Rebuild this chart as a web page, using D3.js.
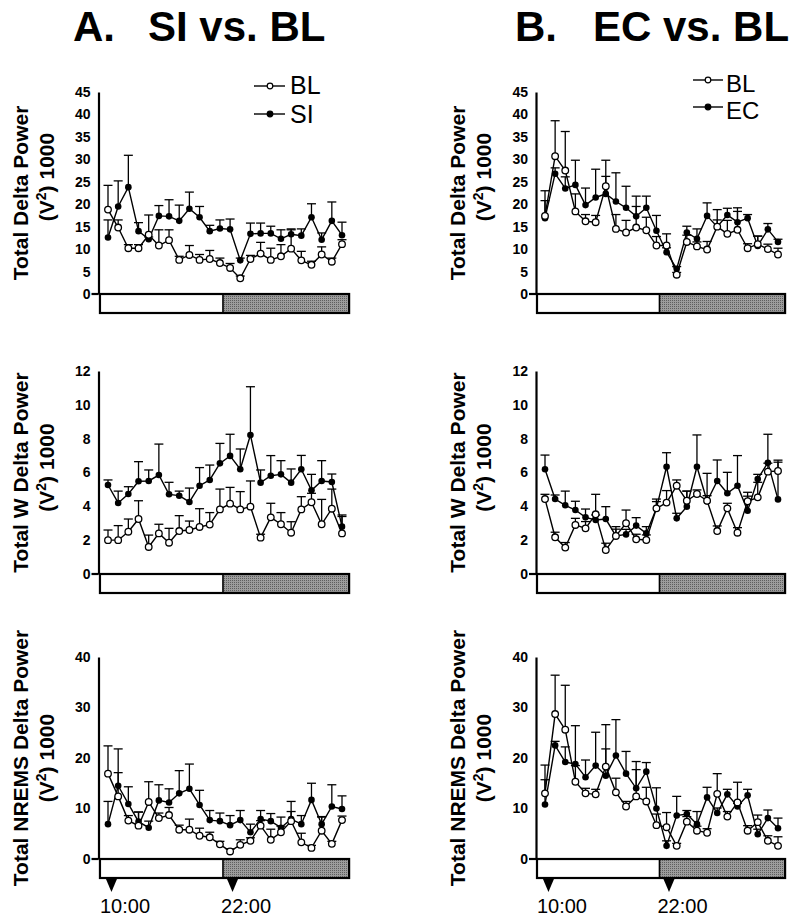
<!DOCTYPE html>
<html><head><meta charset="utf-8">
<script src="https://cdn.jsdelivr.net/npm/d3@7"></script>
<style>
body{margin:0;background:#fff}
svg{display:block}
text{font-family:"Liberation Sans",Arial,Helvetica,sans-serif;fill:#000}
</style>
</head><body>
<svg id="c" width="800" height="923"></svg>
<script>
// ---------- DATA ----------
const hourIndex = d3.range(24); // 24 hourly bins starting at 10:00
const timeLabels = ["10:00", "22:00"];
const timeLabelPos = [0.34, 12.24]; // position in hour-bin units
const lightDark = [-0.79, 11.3, 23.7]; // start, light/dark switch, end (hour-bin units)

const titles = ["A.", "B."];
const titleRest = ["SI vs. BL", "EC vs. BL"];
const seriesNames = [["BL", "SI"], ["BL", "EC"]];
const rowLabels = ["Total Delta Power", "Total W Delta Power", "Total NREMS Delta Power"];

const ticksRow1 = [0, 5, 10, 15, 20, 25, 30, 35, 40, 45];
const ticksRow2 = [0, 2, 4, 6, 8, 10, 12];
const ticksRow3 = [0, 10, 20, 30, 40];

// Row 1: Total Delta Power
const blA1 = [18.8, 14.8, 10.2, 10.2, 13.2, 10.8, 12.0, 7.6, 8.7, 7.6, 7.8, 6.9, 5.8, 3.5, 7.8, 9.0, 7.6, 8.4, 10.1, 7.5, 6.5, 8.8, 7.2, 11.1];
const blA1Err = [5.4, 1.7, 0.8, 0.8, 4.4, 3.5, 2.3, 0.8, 2.1, 1.2, 1.9, 1.1, 1.0, 0.5, 0.8, 2.5, 2.6, 2.6, 4.2, 2.0, 0.8, 1.7, 0.8, 1.0];
const siA1 = [12.6, 19.5, 23.8, 14.0, 12.2, 17.4, 17.3, 16.3, 19.0, 17.1, 14.0, 14.6, 14.4, 7.5, 13.4, 13.5, 13.5, 12.3, 13.3, 13.0, 17.1, 12.1, 16.3, 13.1];
const siA1Err = [3.9, 5.7, 7.1, 1.9, 0.5, 2.3, 3.7, 3.5, 3.7, 2.4, 1.3, 1.9, 2.3, 0.5, 2.4, 2.3, 1.6, 2.0, 1.2, 1.5, 3.0, 1.5, 4.2, 2.9];

const blB1 = [17.4, 30.7, 27.5, 18.4, 16.2, 16.0, 24.0, 14.5, 13.7, 14.8, 14.2, 10.8, 10.8, 4.3, 11.6, 10.6, 9.9, 15.0, 13.4, 14.3, 10.2, 11.1, 10.0, 8.8];
const blB1Err = [5.6, 7.9, 8.7, 3.9, 1.5, 1.5, 5.8, 3.2, 2.7, 4.7, 2.9, 2.0, 2.6, 0.5, 1.5, 1.0, 1.8, 1.5, 3.0, 4.1, 1.0, 1.8, 1.1, 1.4];
const ecB1 = [16.9, 26.8, 23.5, 24.3, 19.8, 21.5, 22.3, 20.6, 19.2, 17.3, 19.2, 14.1, 9.3, 5.6, 13.7, 12.3, 17.4, 15.0, 17.6, 16.0, 16.9, 10.7, 14.4, 11.6];
const ecB1Err = [3.9, 1.3, 2.6, 5.5, 3.8, 6.3, 3.9, 6.4, 4.8, 4.5, 2.6, 3.4, 1.0, 0.5, 1.4, 2.2, 2.9, 3.8, 1.5, 3.2, 0.8, 2.2, 1.3, 0.6];

// Row 2: Total W Delta Power
const blA2 = [2.0, 2.0, 2.5, 3.25, 1.6, 2.4, 1.85, 2.54, 2.6, 2.78, 2.92, 3.82, 4.16, 3.82, 3.98, 2.15, 3.35, 2.94, 2.44, 3.82, 4.24, 2.94, 3.86, 2.4];
const blA2Err = [0.6, 0.86, 0.75, 1.08, 0.7, 0.54, 0.85, 0.91, 0.53, 1.08, 0.71, 1.2, 0.96, 1.05, 1.52, 0.2, 0.83, 0.69, 0.65, 0.75, 0.53, 1.47, 1.16, 1.0];
const siA2 = [5.26, 4.2, 4.73, 5.48, 5.5, 5.85, 4.71, 4.63, 4.26, 5.22, 5.56, 6.54, 6.98, 6.19, 8.22, 5.4, 5.81, 5.89, 5.4, 6.19, 4.95, 5.5, 5.44, 2.8];
const siA2Err = [0.3, 0.7, 0.43, 1.16, 0.65, 1.83, 0.71, 0.27, 0.82, 1.07, 0.88, 1.18, 1.28, 1.2, 2.85, 0.75, 1.19, 0.81, 0.81, 0.82, 0.94, 1.2, 0.47, 0.69];

const blB2 = [4.43, 2.17, 1.56, 2.9, 2.7, 3.53, 1.42, 2.25, 3.0, 2.05, 2.01, 3.88, 4.22, 5.22, 4.33, 4.73, 4.33, 2.54, 3.88, 2.44, 4.3, 4.53, 6.05, 6.09];
const blB2Err = [0.28, 0.3, 0.3, 0.39, 0.4, 1.18, 0.4, 0.4, 0.78, 0.3, 0.3, 0.4, 0.71, 0.34, 0.57, 0.24, 0.3, 0.3, 0.3, 0.3, 0.3, 0.89, 0.5, 0.64];
const ecB2 = [6.19, 4.43, 4.06, 3.78, 3.35, 3.19, 3.25, 2.25, 2.34, 2.86, 2.4, 3.88, 6.34, 3.29, 3.98, 6.34, 4.3, 5.5, 4.77, 5.22, 3.74, 5.62, 6.58, 4.41];
const ecB2Err = [0.84, 0.24, 0.84, 0.52, 0.49, 0.3, 0.73, 0.55, 0.3, 0.47, 0.4, 0.55, 0.83, 0.3, 0.92, 1.88, 1.65, 1.24, 1.24, 1.78, 1.09, 0.27, 1.68, 2.2];

// Row 3: Total NREMS Delta Power
const blA3 = [16.9, 12.4, 7.6, 6.6, 11.3, 8.1, 8.7, 5.8, 5.8, 4.6, 4.3, 2.9, 1.5, 2.8, 3.6, 6.6, 3.8, 5.3, 7.5, 3.3, 2.2, 5.6, 3.0, 7.7];
const blA3Err = [5.5, 4.7, 1.0, 2.7, 4.0, 1.0, 1.5, 0.9, 2.1, 1.5, 1.0, 0.6, 0.5, 1.0, 0.6, 1.0, 2.1, 1.2, 1.9, 1.8, 0.5, 2.7, 0.5, 0.8];
const siA3 = [6.9, 14.5, 10.9, 7.4, 6.2, 11.6, 11.2, 13.0, 13.9, 10.7, 7.7, 7.5, 6.7, 7.7, 5.3, 7.9, 7.5, 6.2, 7.9, 6.9, 11.7, 6.9, 10.4, 9.9];
const siA3Err = [4.5, 7.3, 3.4, 1.9, 1.3, 3.1, 2.7, 4.5, 4.9, 2.9, 1.9, 1.6, 1.9, 1.9, 1.6, 1.7, 1.5, 2.1, 3.5, 1.7, 3.3, 1.5, 4.3, 2.6];

const blB3 = [13.0, 28.7, 25.6, 15.3, 13.0, 12.8, 18.3, 13.2, 10.4, 12.4, 11.4, 6.7, 6.3, 2.6, 7.4, 5.6, 5.2, 12.9, 8.4, 11.2, 5.6, 7.3, 3.6, 2.6];
const blB3Err = [5.6, 7.7, 8.8, 3.2, 1.0, 1.0, 8.3, 2.8, 1.0, 5.3, 2.8, 2.2, 2.9, 0.5, 1.0, 0.9, 0.8, 4.0, 1.0, 4.0, 1.0, 1.4, 1.0, 1.8];
const ecB3 = [10.8, 22.5, 19.2, 18.8, 16.2, 18.5, 16.5, 20.5, 16.9, 14.0, 17.3, 10.0, 2.6, 8.6, 8.9, 6.9, 12.2, 9.1, 12.8, 10.4, 12.6, 4.9, 8.1, 6.1];
const ecB3Err = [4.9, 0.8, 3.0, 7.6, 3.4, 6.6, 5.3, 7.1, 4.4, 5.3, 1.8, 4.1, 1.0, 3.8, 0.7, 2.5, 2.0, 1.0, 1.0, 0.6, 1.2, 1.0, 1.6, 2.0];

// ---------- LAYOUT ----------
const cols = [
  {x0: 108, x1: 342, axisX: 98.5, lab1: 28, lab2: 54, titleX: 73, restX: 148},
  {x0: 545, x1: 778, axisX: 536, lab1: 465, lab2: 491, titleX: 515, restX: 593}
];
const rows = [
  {top: 92, bottom: 294, max: 45, ticks: ticksRow1, l2shift: -16},
  {top: 371, bottom: 574, max: 12, ticks: ticksRow2, l2shift: -5},
  {top: 657, bottom: 859, max: 40, ticks: ticksRow3, l2shift: 0}
];
const panels = [
  {r: 0, c: 0, bl: blA1, blE: blA1Err, tr: siA1, trE: siA1Err},
  {r: 0, c: 1, bl: blB1, blE: blB1Err, tr: ecB1, trE: ecB1Err},
  {r: 1, c: 0, bl: blA2, blE: blA2Err, tr: siA2, trE: siA2Err},
  {r: 1, c: 1, bl: blB2, blE: blB2Err, tr: ecB2, trE: ecB2Err},
  {r: 2, c: 0, bl: blA3, blE: blA3Err, tr: siA3, trE: siA3Err},
  {r: 2, c: 1, bl: blB3, blE: blB3Err, tr: ecB3, trE: ecB3Err}
];

const svg = d3.select("#c");
const defs = svg.append("defs");
const pat = defs.append("pattern").attr("id", "stip")
  .attr("width", 2).attr("height", 2).attr("patternUnits", "userSpaceOnUse");
pat.append("rect").attr("width", 2).attr("height", 2).attr("fill", "#9c9c9c");
pat.append("rect").attr("width", 1).attr("height", 1).attr("fill", "#5e5e5e");

// Titles
cols.forEach((c, ci) => {
  svg.append("text").attr("x", c.titleX).attr("y", 41)
    .attr("font-size", 42).attr("font-weight", "bold").text(titles[ci]);
  svg.append("text").attr("x", c.restX).attr("y", 41)
    .attr("font-size", 42).attr("font-weight", "bold").text(titleRest[ci]);
});

panels.forEach(p => {
  const c = cols[p.c], row = rows[p.r];
  const g = svg.append("g");
  const x = d3.scaleLinear().domain([0, 23]).range([c.x0, c.x1]);
  const y = d3.scaleLinear().domain([0, row.max]).range([row.bottom, row.top]);
  const y0 = y(0);
  const barH = 19;

  // light/dark bar
  g.append("rect").attr("x", x(lightDark[0])).attr("y", y0)
    .attr("width", x(lightDark[1]) - x(lightDark[0])).attr("height", barH)
    .attr("fill", "#fff");
  g.append("rect").attr("x", x(lightDark[1])).attr("y", y0)
    .attr("width", x(lightDark[2]) - x(lightDark[1])).attr("height", barH)
    .attr("fill", "url(#stip)");
  g.append("rect").attr("x", x(lightDark[0])).attr("y", y0)
    .attr("width", x(lightDark[2]) - x(lightDark[0])).attr("height", barH)
    .attr("fill", "none").attr("stroke", "#000").attr("stroke-width", 2.2);
  g.append("line").attr("x1", x(lightDark[1])).attr("x2", x(lightDark[1]))
    .attr("y1", y0).attr("y2", y0 + barH).attr("stroke", "#000").attr("stroke-width", 1.6);

  // zero tick extension
  g.append("line").attr("x1", c.axisX - 7).attr("x2", c.axisX)
    .attr("y1", y0).attr("y2", y0).attr("stroke", "#000").attr("stroke-width", 2.2);

  // y axis
  const ax = g.append("g").attr("transform", `translate(${c.axisX},0)`)
    .call(d3.axisLeft(y).tickValues(row.ticks).tickSize(0).tickPadding(8).tickFormat(d3.format("d")));
  ax.select(".domain").attr("stroke", "#000").attr("stroke-width", 2.2);
  ax.selectAll("text").attr("font-size", 14).attr("font-weight", "bold")
    .attr("font-family", '"Liberation Sans",Arial,sans-serif').attr("fill", "#000");

  // y labels
  const yc = (row.top + row.bottom) / 2;
  svg.append("text").attr("transform", `translate(${c.lab1},${yc}) rotate(-90)`)
    .attr("text-anchor", "middle").attr("font-size", 21).attr("font-weight", "bold")
    .text(rowLabels[p.r]);
  const t2 = svg.append("text").attr("transform", `translate(${c.lab2},${yc + row.l2shift}) rotate(-90)`)
    .attr("text-anchor", "middle").attr("font-size", 21).attr("font-weight", "bold");
  t2.append("tspan").text("(V");
  t2.append("tspan").attr("font-size", 14).attr("dy", -8).text("2");
  t2.append("tspan").attr("dy", 8).text(") 1000");

  // error bars
  const drawErr = (vals, errs) => {
    vals.forEach((v, i) => {
      const top = y(v + errs[i]);
      g.append("line").attr("x1", x(i)).attr("x2", x(i)).attr("y1", y(v)).attr("y2", top)
        .attr("stroke", "#000").attr("stroke-width", 1.3);
      g.append("line").attr("x1", x(i) - 4.5).attr("x2", x(i) + 4.5).attr("y1", top).attr("y2", top)
        .attr("stroke", "#000").attr("stroke-width", 1.3);
    });
  };
  drawErr(p.tr, p.trE);
  drawErr(p.bl, p.blE);

  const line = d3.line().x((d, i) => x(i)).y(d => y(d));
  g.append("path").datum(p.tr).attr("d", line).attr("fill", "none")
    .attr("stroke", "#000").attr("stroke-width", 1.4);
  g.append("path").datum(p.bl).attr("d", line).attr("fill", "none")
    .attr("stroke", "#000").attr("stroke-width", 1.4);

  g.selectAll(null).data(p.tr).enter().append("circle")
    .attr("cx", (d, i) => x(i)).attr("cy", d => y(d)).attr("r", 3.3).attr("fill", "#000");
  g.selectAll(null).data(p.bl).enter().append("circle")
    .attr("cx", (d, i) => x(i)).attr("cy", d => y(d)).attr("r", 3.3)
    .attr("fill", "#fff").attr("stroke", "#000").attr("stroke-width", 1.3);

  // time arrows + labels on bottom row
  if (p.r === 2) {
    timeLabelPos.forEach((tp, k) => {
      const ax0 = x(tp);
      g.append("path")
        .attr("d", `M${ax0 - 5.5},${y0 + barH + 1}L${ax0 + 5.5},${y0 + barH + 1}L${ax0},${y0 + barH + 14}Z`)
        .attr("fill", "#000");
      g.append("text").attr("x", ax0 - 11.5).attr("y", 913)
        .attr("font-size", 20).text(timeLabels[k]);
    });
  }

  // legend on top row
  if (p.r === 0) {
    const L = p.c === 0
      ? {lx1: 254, lx2: 285, mx: 270, tx: 290, ly: [86, 114], ty: [94, 123], fs: 25}
      : {lx1: 693, lx2: 723, mx: 708, tx: 726, ly: [80, 107], ty: [92, 119], fs: 24};
    seriesNames[p.c].forEach((nm, k) => {
      g.append("line").attr("x1", L.lx1).attr("x2", L.lx2).attr("y1", L.ly[k]).attr("y2", L.ly[k])
        .attr("stroke", "#000").attr("stroke-width", 1.4);
      g.append("circle").attr("cx", L.mx).attr("cy", L.ly[k]).attr("r", 2.8)
        .attr("fill", k === 0 ? "#fff" : "#000").attr("stroke", "#000").attr("stroke-width", 1.2);
      g.append("text").attr("x", L.tx).attr("y", L.ty[k]).attr("font-size", L.fs).text(nm);
    });
  }
});
</script>
</body></html>
